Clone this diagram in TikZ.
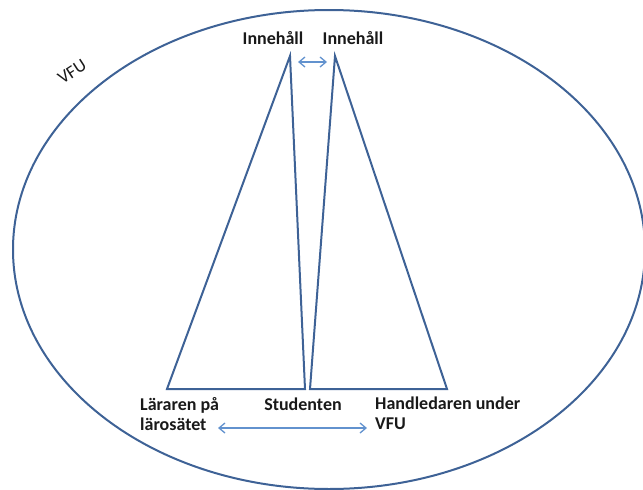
\documentclass[tikz,border=0pt]{standalone}
\usepackage{fontspec}
\setmainfont{Carlito}
\usetikzlibrary{arrows.meta,shapes.geometric}
\definecolor{vfublue}{RGB}{62,98,150}
\definecolor{pilblue}{RGB}{98,146,206}
\definecolor{textgray}{RGB}{25,25,25}
\begin{document}
\begin{tikzpicture}[x=1pt,y=-1pt]


\tikzstyle{kant}=[draw=vfublue,line width=2pt,line join=miter]
\tikzstyle{pil}=[draw=pilblue,line width=1.3pt,{Straight Barb[length=6pt,width=10pt]}-{Straight Barb[length=6pt,width=10pt]}]
\tikzstyle{etikett}=[inner sep=0pt,text=textgray,font=\fontsize{18}{20}\selectfont\bfseries]
\useasboundingbox (0,0) rectangle (643,490);
  \node[ellipse,kant,minimum width=632pt,minimum height=479pt,inner sep=0pt] (vfu) at (329,249.5) {};
  \node[inner sep=0pt,text=textgray,font=\fontsize{18}{20}\selectfont,rotate=33] (vfu-text) at (72,72) {VFU};
  % de två trianglarna
  \foreach \name/\x/\y in {L-top/290/56, L-vanster/167/389, L-hoger/305/389,
                           H-top/335/56, H-vanster/310/389, H-hoger/447/389}
    \coordinate (\name) at (\x,\y);
  \foreach \t in {L,H}
    { \draw[kant] (\t-top) -- (\t-vanster) -- (\t-hoger) -- cycle; }
  % etiketter
  \node[etikett,anchor=base] (innehall-1) at (273,44) {Innehåll};
  \node[etikett,anchor=base] (innehall-2) at (353,44) {Innehåll};
  \node[etikett,anchor=base] (studenten) at (303,410) {Studenten};
  \node[etikett,anchor=north west,align=left] (lararen) at (140,397) {Läraren på\\lärosätet};
  \node[etikett,anchor=north west,align=left] (handledaren) at (375,397) {Handledaren under\\VFU};
  % pilar
  \coordinate (pil-1a) at (298,62);
  \coordinate (pil-1b) at (327,62);
  \coordinate (pil-2a) at (218,428);
  \coordinate (pil-2b) at (367,428);
  \draw[pil] (pil-1a) -- (pil-1b);
  \draw[pil] (pil-2a) -- (pil-2b);

        \end{tikzpicture}
\end{document}
